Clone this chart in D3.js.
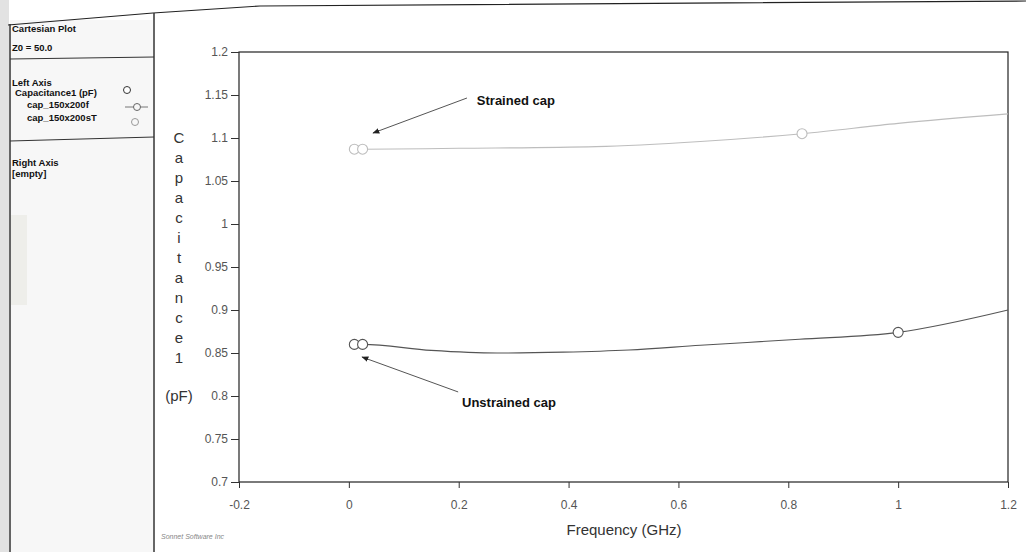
<!DOCTYPE html>
<html>
<head>
<meta charset="utf-8">
<script src="https://cdn.jsdelivr.net/npm/d3@7/dist/d3.min.js"></script>
<style>
  body { margin: 0; background: #fff; }
  text { font-family: "Liberation Sans", Arial, sans-serif; }
</style>
</head>
<body>
<script>
// values (frequency in GHz, capacitance in pF)
const unstrainedFreq = [0.01, 0.025, 0.15, 0.27, 0.39, 0.51, 0.64, 0.82, 1.0, 1.2];
const unstrainedCap  = [0.860, 0.860, 0.853, 0.850, 0.851, 0.8535, 0.859, 0.866, 0.874, 0.900];
const unstrainedMarks = [0, 1, 8];

const strainedFreq = [0.01, 0.025, 0.2, 0.45, 0.64, 0.825, 1.0, 1.2];
const strainedCap  = [1.087, 1.087, 1.088, 1.090, 1.096, 1.105, 1.117, 1.128];
const strainedMarks = [0, 1, 5];

const xTicks = [-0.2, 0, 0.2, 0.4, 0.6, 0.8, 1, 1.2];
const yTicks = [0.7, 0.75, 0.8, 0.85, 0.9, 0.95, 1, 1.05, 1.1, 1.15, 1.2];

const yTitle = "Capacitance1".split("");
const legendTop = ["Cartesian Plot", "Z0 = 50.0"];
const legendLeft = ["Left Axis", "Capacitance1 (pF)", "cap_150x200f", "cap_150x200sT"];
const legendRight = ["Right Axis", "[empty]"];

// annotations, in data units: label spot, arrow start, arrow tip
const notes = [
  {text: "Strained cap", lx: 0.233, ly: 1.138, x1: 0.215, y1: 1.1465, x2: 0.044, y2: 1.1058},
  {text: "Unstrained cap", lx: 0.206, ly: 0.787, x1: 0.199, y1: 0.8047, x2: 0.024, y2: 0.8453}
];

const width = 1026, height = 552;
const svg = d3.select("body").append("svg")
    .attr("width", width).attr("height", height);

const x = d3.scaleLinear().domain([-0.2, 1.2]).range([239, 1008]);
const y = d3.scaleLinear().domain([0.7, 1.2]).range([482, 52]);
const fmt = d => String(+d.toFixed(2)); // plain hyphen minus, like the original

// left panel + frame
svg.append("rect").attr("x", 0).attr("y", 0).attr("width", 9).attr("height", height).attr("fill", "#e2e2e2");
svg.append("rect").attr("x", 10).attr("y", 20).attr("width", 143).attr("height", height).attr("fill", "#f7f7f7");
svg.append("rect").attr("x", 11).attr("y", 215).attr("width", 16).attr("height", 90).attr("fill", "#eeeeea");
svg.append("path")
    .attr("d", "M8,25L153,13L260,6L1026,1")
    .attr("fill", "none").attr("stroke", "#222").attr("stroke-width", 1.2);
svg.append("line").attr("x1", 10).attr("x2", 10).attr("y1", 24).attr("y2", height)
    .attr("stroke", "#333").attr("stroke-width", 1.5);
svg.append("line").attr("x1", 154).attr("x2", 154).attr("y1", 13).attr("y2", height)
    .attr("stroke", "#333").attr("stroke-width", 1.5);
svg.append("line").attr("x1", 10).attr("x2", 154).attr("y1", 59).attr("y2", 57).attr("stroke", "#333");
svg.append("line").attr("x1", 10).attr("x2", 154).attr("y1", 141).attr("y2", 137).attr("stroke", "#333");

const leg = svg.append("g")
    .style("font-family", "'Liberation Sans Narrow', 'Liberation Sans', Arial")
    .style("font-weight", "bold").style("font-size", "9.5px").attr("fill", "#111");
leg.selectAll(".t").data(legendTop).join("text")
    .attr("x", 12).attr("y", (d, i) => 32 + i * 19).text(d => d);
leg.selectAll(".l").data(legendLeft).join("text")
    .attr("x", (d, i) => i == 0 ? 12 : i == 1 ? 15 : 27)
    .attr("y", (d, i) => [86, 96, 108, 121][i]).text(d => d);
leg.selectAll(".r").data(legendRight).join("text")
    .attr("x", 12).attr("y", (d, i) => 166 + i * 11).text(d => d);
svg.append("circle").attr("cx", 127).attr("cy", 90).attr("r", 3.5)
    .attr("fill", "#fff").attr("stroke", "#333");
svg.append("line").attr("x1", 125).attr("x2", 148).attr("y1", 107).attr("y2", 107).attr("stroke", "#777");
svg.append("circle").attr("cx", 137).attr("cy", 107).attr("r", 3.5)
    .attr("fill", "#f7f7f7").attr("stroke", "#666");
svg.append("circle").attr("cx", 135).attr("cy", 122).attr("r", 3.5)
    .attr("fill", "#f7f7f7").attr("stroke", "#999");

// plot frame
svg.append("rect")
    .attr("x", x(-0.2)).attr("y", y(1.2))
    .attr("width", x(1.2) - x(-0.2)).attr("height", y(0.7) - y(1.2))
    .attr("fill", "#fff").attr("stroke", "#222").attr("stroke-width", 1.2);

const yAxis = svg.append("g")
    .attr("transform", `translate(${x(-0.2)},0)`)
    .call(d3.axisLeft(y).tickValues(yTicks).tickSize(8).tickPadding(3).tickFormat(fmt));
const xAxis = svg.append("g")
    .attr("transform", `translate(0,${y(0.7)})`)
    .call(d3.axisBottom(x).tickValues(xTicks).tickSize(6).tickPadding(12).tickFormat(fmt));
[xAxis, yAxis].forEach(a => {
  a.select(".domain").remove();
  a.selectAll("line").attr("stroke", "#333");
  a.selectAll("text").attr("fill", "#555").style("font-size", "12px")
      .style("font-family", "'Liberation Sans', Arial");
});

// axis titles
svg.append("g").selectAll("text").data(yTitle).join("text")
    .attr("x", 179).attr("y", (d, i) => 143 + i * 20)
    .attr("text-anchor", "middle").attr("fill", "#333").style("font-size", "15px")
    .text(d => d);
svg.append("text").attr("x", 179).attr("y", 401).attr("text-anchor", "middle")
    .attr("fill", "#333").style("font-size", "15px").text("(pF)");
svg.append("text").attr("x", 624).attr("y", 535).attr("text-anchor", "middle")
    .attr("fill", "#333").style("font-size", "15px").text("Frequency (GHz)");
svg.append("text").attr("x", 161).attr("y", 539).attr("fill", "#888")
    .style("font-size", "7px").style("font-style", "italic").text("Sonnet Software Inc");

// curves
const line = d3.line().curve(d3.curveMonotoneX)
    .x(d => x(d[0])).y(d => y(d[1]));
const series = [
  {f: strainedFreq, c: strainedCap, m: strainedMarks, stroke: "#bdbdbd"},
  {f: unstrainedFreq, c: unstrainedCap, m: unstrainedMarks, stroke: "#555"}
];
series.forEach(s => {
  const pts = s.f.map((f, i) => [f, s.c[i]]);
  svg.append("path").datum(pts).attr("d", line)
      .attr("fill", "none").attr("stroke", s.stroke).attr("stroke-width", 1.1);
  svg.append("g").selectAll("circle").data(s.m.map(i => pts[i])).join("circle")
      .attr("cx", d => x(d[0])).attr("cy", d => y(d[1])).attr("r", 5)
      .attr("fill", "#fff").attr("stroke", s.stroke).attr("stroke-width", 1.1);
});

// annotations
svg.append("defs").append("marker")
    .attr("id", "head").attr("viewBox", "0 0 10 10").attr("refX", 9).attr("refY", 5)
    .attr("markerWidth", 7).attr("markerHeight", 7).attr("orient", "auto")
  .append("path").attr("d", "M0,1L10,5L0,9Z").attr("fill", "#222");
const ann = svg.append("g").selectAll("g").data(notes).join("g");
ann.append("line")
    .attr("x1", d => x(d.x1)).attr("y1", d => y(d.y1))
    .attr("x2", d => x(d.x2)).attr("y2", d => y(d.y2))
    .attr("stroke", "#555").attr("stroke-width", 1).attr("marker-end", "url(#head)");
ann.append("text")
    .attr("x", d => x(d.lx)).attr("y", d => y(d.ly))
    .attr("fill", "#111").style("font-size", "13px").style("font-weight", "bold")
    .text(d => d.text);
</script>
</body>
</html>
